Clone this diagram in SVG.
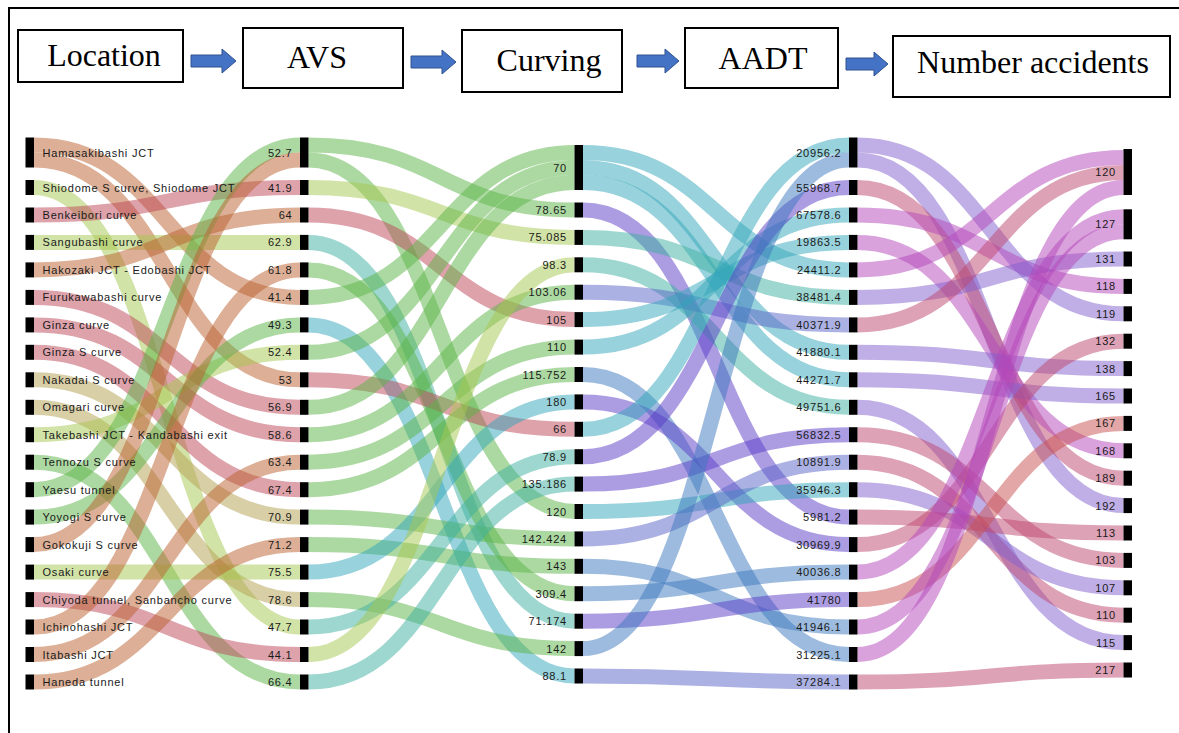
<svg xmlns="http://www.w3.org/2000/svg" width="1179" height="733" viewBox="0 0 1179 733">
<defs>
<style>
.frame{fill:none;stroke:#000;stroke-width:2}
.hbox{fill:#fff;stroke:#000;stroke-width:2}
.htxt{font-family:"Liberation Serif","Times New Roman",serif;font-size:32px;fill:#000;text-anchor:middle}
.arw{fill:#4472c4;stroke:#2f528f;stroke-width:1}
.bar{fill:#000}
.lbl{font-family:"Liberation Sans",Arial,sans-serif;font-size:11px;fill:#1a1a1a;letter-spacing:0.8px}
.r{text-anchor:end}
#links path{fill:none;stroke-width:15;stroke-opacity:0.5}
.tan{stroke:#b95f2d}
.pink{stroke:#be4657}
.yg{stroke:#a5c850}
.khaki{stroke:#b4a050}
.green{stroke:#5ab446}
.teal{stroke:#3cafa0}
.cyan{stroke:#32a5b9}
.steel{stroke:#3c78be}
.purple{stroke:#5a3cc8}
.peri{stroke:#5a64c8}
.lav{stroke:#825fcd}
.orchid{stroke:#b446b9}
.pinkred{stroke:#be466e}
.salmon{stroke:#c85050}
</style>
</defs>
<rect width="1179" height="733" fill="#fff"/>
<path class="frame" d="M9,733V8H1179"/>

<!-- header: stage boxes and block arrows -->
<g id="header">
<g id="h-location"><rect class="hbox" x="18" y="30" width="165" height="52"/><text class="htxt" x="104" y="66">Location</text></g>
<g id="h-avs"><rect class="hbox" x="243" y="28" width="160" height="60"/><text class="htxt" x="317" y="68">AVS</text></g>
<g id="h-curving"><rect class="hbox" x="462" y="30" width="160" height="62"/><text class="htxt" x="549" y="71">Curving</text></g>
<g id="h-aadt"><rect class="hbox" x="685" y="28" width="153" height="60"/><text class="htxt" x="763" y="69">AADT</text></g>
<g id="h-number"><rect class="hbox" x="893" y="36" width="277" height="61"/><text class="htxt" x="1033" y="73">Number accidents</text></g>
<path class="arw" d="M191,55H222V49L236,61L222,73V67H191Z"/>
<path class="arw" d="M411,56H442V50L456,62L442,74V68H411Z"/>
<path class="arw" d="M637,55H665V49L679,61L665,73V67H637Z"/>
<path class="arw" d="M846,58H874V52L888,64L874,76V70H846Z"/>
</g>

<g id="links">
<!-- Location to AVS -->
<path class="tan" d="M34,145C167,145 167,297.4 300,297.4"/>
<path class="tan" d="M34,160C167,160 167,379.8 300,379.8"/>
<path class="yg" d="M34,187.5C167,187.5 167,627 300,627"/>
<path class="pink" d="M34,215C167,215 167,187.5 300,187.5"/>
<path class="yg" d="M34,242.4C167,242.4 167,242.4 300,242.4"/>
<path class="tan" d="M34,269.9C167,269.9 167,215 300,215"/>
<path class="pink" d="M34,297.4C167,297.4 167,407.3 300,407.3"/>
<path class="pink" d="M34,324.9C167,324.9 167,434.7 300,434.7"/>
<path class="pink" d="M34,352.3C167,352.3 167,489.7 300,489.7"/>
<path class="khaki" d="M34,379.8C167,379.8 167,517.1 300,517.1"/>
<path class="khaki" d="M34,407.3C167,407.3 167,599.6 300,599.6"/>
<path class="yg" d="M34,434.7C167,434.7 167,352.3 300,352.3"/>
<path class="green" d="M34,462.2C167,462.2 167,682 300,682"/>
<path class="green" d="M34,489.7C167,489.7 167,145 300,145"/>
<path class="green" d="M34,517.1C167,517.1 167,324.9 300,324.9"/>
<path class="tan" d="M34,544.6C167,544.6 167,160 300,160"/>
<path class="yg" d="M34,572.1C167,572.1 167,572.1 300,572.1"/>
<path class="pink" d="M34,599.6C167,599.6 167,654.5 300,654.5"/>
<path class="tan" d="M34,627C167,627 167,269.9 300,269.9"/>
<path class="tan" d="M34,654.5C167,654.5 167,462.2 300,462.2"/>
<path class="tan" d="M34,682C167,682 167,544.6 300,544.6"/>
<!-- AVS to Curving -->
<path class="green" d="M308.5,145C441.5,145 441.5,210 574.5,210"/>
<path class="green" d="M308.5,160C441.5,160 441.5,511.5 574.5,511.5"/>
<path class="yg" d="M308.5,187.5C441.5,187.5 441.5,237.4 574.5,237.4"/>
<path class="pink" d="M308.5,215C441.5,215 441.5,319.6 574.5,319.6"/>
<path class="teal" d="M308.5,242.4C441.5,242.4 441.5,621.2 574.5,621.2"/>
<path class="green" d="M308.5,269.9C441.5,269.9 441.5,593.7 574.5,593.7"/>
<path class="green" d="M308.5,297.4C441.5,297.4 441.5,152.5 574.5,152.5"/>
<path class="cyan" d="M308.5,324.9C441.5,324.9 441.5,676 574.5,676"/>
<path class="green" d="M308.5,352.3C441.5,352.3 441.5,167.5 574.5,167.5"/>
<path class="pink" d="M308.5,379.8C441.5,379.8 441.5,429.3 574.5,429.3"/>
<path class="green" d="M308.5,407.3C441.5,407.3 441.5,182.5 574.5,182.5"/>
<path class="green" d="M308.5,434.7C441.5,434.7 441.5,292.2 574.5,292.2"/>
<path class="green" d="M308.5,462.2C441.5,462.2 441.5,347.1 574.5,347.1"/>
<path class="green" d="M308.5,489.7C441.5,489.7 441.5,374.5 574.5,374.5"/>
<path class="green" d="M308.5,517.1C441.5,517.1 441.5,538.9 574.5,538.9"/>
<path class="green" d="M308.5,544.6C441.5,544.6 441.5,566.3 574.5,566.3"/>
<path class="cyan" d="M308.5,572.1C441.5,572.1 441.5,401.9 574.5,401.9"/>
<path class="green" d="M308.5,599.6C441.5,599.6 441.5,648.6 574.5,648.6"/>
<path class="teal" d="M308.5,627C441.5,627 441.5,456.7 574.5,456.7"/>
<path class="yg" d="M308.5,654.5C441.5,654.5 441.5,264.8 574.5,264.8"/>
<path class="teal" d="M308.5,682C441.5,682 441.5,484.1 574.5,484.1"/>
<!-- Curving to AADT -->
<path class="cyan" d="M583,152.5C716,152.5 716,269.9 849,269.9"/>
<path class="cyan" d="M583,167.5C716,167.5 716,352.3 849,352.3"/>
<path class="cyan" d="M583,182.5C716,182.5 716,379.8 849,379.8"/>
<path class="purple" d="M583,210C716,210 716,517.1 849,517.1"/>
<path class="teal" d="M583,237.4C716,237.4 716,297.4 849,297.4"/>
<path class="teal" d="M583,264.8C716,264.8 716,407.3 849,407.3"/>
<path class="peri" d="M583,292.2C716,292.2 716,324.9 849,324.9"/>
<path class="cyan" d="M583,319.6C716,319.6 716,242.4 849,242.4"/>
<path class="cyan" d="M583,347.1C716,347.1 716,215 849,215"/>
<path class="steel" d="M583,374.5C716,374.5 716,654.5 849,654.5"/>
<path class="purple" d="M583,401.9C716,401.9 716,544.6 849,544.6"/>
<path class="cyan" d="M583,429.3C716,429.3 716,145 849,145"/>
<path class="purple" d="M583,456.7C716,456.7 716,187.5 849,187.5"/>
<path class="purple" d="M583,484.1C716,484.1 716,434.7 849,434.7"/>
<path class="cyan" d="M583,511.5C716,511.5 716,489.7 849,489.7"/>
<path class="peri" d="M583,538.9C716,538.9 716,462.2 849,462.2"/>
<path class="steel" d="M583,566.3C716,566.3 716,627 849,627"/>
<path class="steel" d="M583,593.7C716,593.7 716,572.1 849,572.1"/>
<path class="purple" d="M583,621.2C716,621.2 716,599.6 849,599.6"/>
<path class="steel" d="M583,648.6C716,648.6 716,160 849,160"/>
<path class="peri" d="M583,676C716,676 716,682 849,682"/>
<!-- AADT to Number accidents -->
<path class="lav" d="M857.5,145C990.5,145 990.5,313.8 1123.5,313.8"/>
<path class="lav" d="M857.5,160C990.5,160 990.5,505.6 1123.5,505.6"/>
<path class="pinkred" d="M857.5,187.5C990.5,187.5 990.5,478.2 1123.5,478.2"/>
<path class="orchid" d="M857.5,215C990.5,215 990.5,286.4 1123.5,286.4"/>
<path class="orchid" d="M857.5,242.4C990.5,242.4 990.5,450.8 1123.5,450.8"/>
<path class="orchid" d="M857.5,269.9C990.5,269.9 990.5,157.5 1123.5,157.5"/>
<path class="lav" d="M857.5,297.4C990.5,297.4 990.5,259 1123.5,259"/>
<path class="pinkred" d="M857.5,324.9C990.5,324.9 990.5,172.5 1123.5,172.5"/>
<path class="lav" d="M857.5,352.3C990.5,352.3 990.5,368.6 1123.5,368.6"/>
<path class="lav" d="M857.5,379.8C990.5,379.8 990.5,396 1123.5,396"/>
<path class="lav" d="M857.5,407.3C990.5,407.3 990.5,642.6 1123.5,642.6"/>
<path class="pinkred" d="M857.5,434.7C990.5,434.7 990.5,560.4 1123.5,560.4"/>
<path class="pinkred" d="M857.5,462.2C990.5,462.2 990.5,615.2 1123.5,615.2"/>
<path class="lav" d="M857.5,489.7C990.5,489.7 990.5,587.8 1123.5,587.8"/>
<path class="pinkred" d="M857.5,517.1C990.5,517.1 990.5,533 1123.5,533"/>
<path class="pinkred" d="M857.5,544.6C990.5,544.6 990.5,341.2 1123.5,341.2"/>
<path class="orchid" d="M857.5,572.1C990.5,572.1 990.5,216.8 1123.5,216.8"/>
<path class="salmon" d="M857.5,599.6C990.5,599.6 990.5,423.4 1123.5,423.4"/>
<path class="orchid" d="M857.5,627C990.5,627 990.5,231.8 1123.5,231.8"/>
<path class="orchid" d="M857.5,654.5C990.5,654.5 990.5,187.5 1123.5,187.5"/>
<path class="pinkred" d="M857.5,682C990.5,682 990.5,670 1123.5,670"/>
</g>

<!-- Location column -->
<g id="loc-hamasakibashi"><rect class="bar" x="25.5" y="137.5" width="8.5" height="30"/><text class="lbl" x="42.5" y="156.5">Hamasakibashi JCT</text></g>
<g id="loc-shiodome"><rect class="bar" x="25.5" y="180" width="8.5" height="15"/><text class="lbl" x="42.5" y="191.5">Shiodome S curve, Shiodome JCT</text></g>
<g id="loc-benkeibori"><rect class="bar" x="25.5" y="207.5" width="8.5" height="15"/><text class="lbl" x="42.5" y="219">Benkeibori curve</text></g>
<g id="loc-sangubashi"><rect class="bar" x="25.5" y="234.9" width="8.5" height="15"/><text class="lbl" x="42.5" y="246.4">Sangubashi curve</text></g>
<g id="loc-hakozaki"><rect class="bar" x="25.5" y="262.4" width="8.5" height="15"/><text class="lbl" x="42.5" y="273.9">Hakozaki JCT - Edobashi JCT</text></g>
<g id="loc-furukawabashi"><rect class="bar" x="25.5" y="289.9" width="8.5" height="15"/><text class="lbl" x="42.5" y="301.4">Furukawabashi curve</text></g>
<g id="loc-ginza"><rect class="bar" x="25.5" y="317.4" width="8.5" height="15"/><text class="lbl" x="42.5" y="328.9">Ginza curve</text></g>
<g id="loc-ginza-s"><rect class="bar" x="25.5" y="344.8" width="8.5" height="15"/><text class="lbl" x="42.5" y="356.3">Ginza S curve</text></g>
<g id="loc-nakadai"><rect class="bar" x="25.5" y="372.3" width="8.5" height="15"/><text class="lbl" x="42.5" y="383.8">Nakadai S curve</text></g>
<g id="loc-omagari"><rect class="bar" x="25.5" y="399.8" width="8.5" height="15"/><text class="lbl" x="42.5" y="411.3">Omagari curve</text></g>
<g id="loc-takebashi"><rect class="bar" x="25.5" y="427.2" width="8.5" height="15"/><text class="lbl" x="42.5" y="438.7">Takebashi JCT - Kandabashi exit</text></g>
<g id="loc-tennozu"><rect class="bar" x="25.5" y="454.7" width="8.5" height="15"/><text class="lbl" x="42.5" y="466.2">Tennozu S curve</text></g>
<g id="loc-yaesu"><rect class="bar" x="25.5" y="482.2" width="8.5" height="15"/><text class="lbl" x="42.5" y="493.7">Yaesu tunnel</text></g>
<g id="loc-yoyogi"><rect class="bar" x="25.5" y="509.6" width="8.5" height="15"/><text class="lbl" x="42.5" y="521.1">Yoyogi S curve</text></g>
<g id="loc-gokokuji"><rect class="bar" x="25.5" y="537.1" width="8.5" height="15"/><text class="lbl" x="42.5" y="548.6">Gokokuji S curve</text></g>
<g id="loc-osaki"><rect class="bar" x="25.5" y="564.6" width="8.5" height="15"/><text class="lbl" x="42.5" y="576.1">Osaki curve</text></g>
<g id="loc-chiyoda"><rect class="bar" x="25.5" y="592.1" width="8.5" height="15"/><text class="lbl" x="42.5" y="603.6">Chiyoda tunnel, Sanbancho curve</text></g>
<g id="loc-ichinohashi"><rect class="bar" x="25.5" y="619.5" width="8.5" height="15"/><text class="lbl" x="42.5" y="631">Ichinohashi JCT</text></g>
<g id="loc-itabashi"><rect class="bar" x="25.5" y="647" width="8.5" height="15"/><text class="lbl" x="42.5" y="658.5">Itabashi JCT</text></g>
<g id="loc-haneda"><rect class="bar" x="25.5" y="674.5" width="8.5" height="15"/><text class="lbl" x="42.5" y="686">Haneda tunnel</text></g>

<!-- AVS column -->
<g id="avs-52-7"><rect class="bar" x="300" y="137.5" width="8.5" height="30"/><text class="lbl r" x="292.5" y="156.5">52.7</text></g>
<g id="avs-41-9"><rect class="bar" x="300" y="180" width="8.5" height="15"/><text class="lbl r" x="292.5" y="191.5">41.9</text></g>
<g id="avs-64"><rect class="bar" x="300" y="207.5" width="8.5" height="15"/><text class="lbl r" x="292.5" y="219">64</text></g>
<g id="avs-62-9"><rect class="bar" x="300" y="234.9" width="8.5" height="15"/><text class="lbl r" x="292.5" y="246.4">62.9</text></g>
<g id="avs-61-8"><rect class="bar" x="300" y="262.4" width="8.5" height="15"/><text class="lbl r" x="292.5" y="273.9">61.8</text></g>
<g id="avs-41-4"><rect class="bar" x="300" y="289.9" width="8.5" height="15"/><text class="lbl r" x="292.5" y="301.4">41.4</text></g>
<g id="avs-49-3"><rect class="bar" x="300" y="317.4" width="8.5" height="15"/><text class="lbl r" x="292.5" y="328.9">49.3</text></g>
<g id="avs-52-4"><rect class="bar" x="300" y="344.8" width="8.5" height="15"/><text class="lbl r" x="292.5" y="356.3">52.4</text></g>
<g id="avs-53"><rect class="bar" x="300" y="372.3" width="8.5" height="15"/><text class="lbl r" x="292.5" y="383.8">53</text></g>
<g id="avs-56-9"><rect class="bar" x="300" y="399.8" width="8.5" height="15"/><text class="lbl r" x="292.5" y="411.3">56.9</text></g>
<g id="avs-58-6"><rect class="bar" x="300" y="427.2" width="8.5" height="15"/><text class="lbl r" x="292.5" y="438.7">58.6</text></g>
<g id="avs-63-4"><rect class="bar" x="300" y="454.7" width="8.5" height="15"/><text class="lbl r" x="292.5" y="466.2">63.4</text></g>
<g id="avs-67-4"><rect class="bar" x="300" y="482.2" width="8.5" height="15"/><text class="lbl r" x="292.5" y="493.7">67.4</text></g>
<g id="avs-70-9"><rect class="bar" x="300" y="509.6" width="8.5" height="15"/><text class="lbl r" x="292.5" y="521.1">70.9</text></g>
<g id="avs-71-2"><rect class="bar" x="300" y="537.1" width="8.5" height="15"/><text class="lbl r" x="292.5" y="548.6">71.2</text></g>
<g id="avs-75-5"><rect class="bar" x="300" y="564.6" width="8.5" height="15"/><text class="lbl r" x="292.5" y="576.1">75.5</text></g>
<g id="avs-78-6"><rect class="bar" x="300" y="592.1" width="8.5" height="15"/><text class="lbl r" x="292.5" y="603.6">78.6</text></g>
<g id="avs-47-7"><rect class="bar" x="300" y="619.5" width="8.5" height="15"/><text class="lbl r" x="292.5" y="631">47.7</text></g>
<g id="avs-44-1"><rect class="bar" x="300" y="647" width="8.5" height="15"/><text class="lbl r" x="292.5" y="658.5">44.1</text></g>
<g id="avs-66-4"><rect class="bar" x="300" y="674.5" width="8.5" height="15"/><text class="lbl r" x="292.5" y="686">66.4</text></g>

<!-- Curving column -->
<g id="cur-70"><rect class="bar" x="574.5" y="145" width="8.5" height="45"/><text class="lbl r" x="567" y="171.5">70</text></g>
<g id="cur-78-65"><rect class="bar" x="574.5" y="202.5" width="8.5" height="15"/><text class="lbl r" x="567" y="214">78.65</text></g>
<g id="cur-75-085"><rect class="bar" x="574.5" y="229.9" width="8.5" height="15"/><text class="lbl r" x="567" y="241.4">75.085</text></g>
<g id="cur-98-3"><rect class="bar" x="574.5" y="257.3" width="8.5" height="15"/><text class="lbl r" x="567" y="268.8">98.3</text></g>
<g id="cur-103-06"><rect class="bar" x="574.5" y="284.7" width="8.5" height="15"/><text class="lbl r" x="567" y="296.2">103.06</text></g>
<g id="cur-105"><rect class="bar" x="574.5" y="312.1" width="8.5" height="15"/><text class="lbl r" x="567" y="323.6">105</text></g>
<g id="cur-110"><rect class="bar" x="574.5" y="339.6" width="8.5" height="15"/><text class="lbl r" x="567" y="351.1">110</text></g>
<g id="cur-115-752"><rect class="bar" x="574.5" y="367" width="8.5" height="15"/><text class="lbl r" x="567" y="378.5">115.752</text></g>
<g id="cur-180"><rect class="bar" x="574.5" y="394.4" width="8.5" height="15"/><text class="lbl r" x="567" y="405.9">180</text></g>
<g id="cur-66"><rect class="bar" x="574.5" y="421.8" width="8.5" height="15"/><text class="lbl r" x="567" y="433.3">66</text></g>
<g id="cur-78-9"><rect class="bar" x="574.5" y="449.2" width="8.5" height="15"/><text class="lbl r" x="567" y="460.7">78.9</text></g>
<g id="cur-135-186"><rect class="bar" x="574.5" y="476.6" width="8.5" height="15"/><text class="lbl r" x="567" y="488.1">135.186</text></g>
<g id="cur-120"><rect class="bar" x="574.5" y="504" width="8.5" height="15"/><text class="lbl r" x="567" y="515.5">120</text></g>
<g id="cur-142-424"><rect class="bar" x="574.5" y="531.4" width="8.5" height="15"/><text class="lbl r" x="567" y="542.9">142.424</text></g>
<g id="cur-143"><rect class="bar" x="574.5" y="558.8" width="8.5" height="15"/><text class="lbl r" x="567" y="570.3">143</text></g>
<g id="cur-309-4"><rect class="bar" x="574.5" y="586.2" width="8.5" height="15"/><text class="lbl r" x="567" y="597.7">309.4</text></g>
<g id="cur-71-174"><rect class="bar" x="574.5" y="613.7" width="8.5" height="15"/><text class="lbl r" x="567" y="625.2">71.174</text></g>
<g id="cur-142"><rect class="bar" x="574.5" y="641.1" width="8.5" height="15"/><text class="lbl r" x="567" y="652.6">142</text></g>
<g id="cur-88-1"><rect class="bar" x="574.5" y="668.5" width="8.5" height="15"/><text class="lbl r" x="567" y="680">88.1</text></g>

<!-- AADT column -->
<g id="aadt-20956-2"><rect class="bar" x="849" y="137.5" width="8.5" height="30"/><text class="lbl r" x="841.5" y="156.5">20956.2</text></g>
<g id="aadt-55968-7"><rect class="bar" x="849" y="180" width="8.5" height="15"/><text class="lbl r" x="841.5" y="191.5">55968.7</text></g>
<g id="aadt-67578-6"><rect class="bar" x="849" y="207.5" width="8.5" height="15"/><text class="lbl r" x="841.5" y="219">67578.6</text></g>
<g id="aadt-19863-5"><rect class="bar" x="849" y="234.9" width="8.5" height="15"/><text class="lbl r" x="841.5" y="246.4">19863.5</text></g>
<g id="aadt-24411-2"><rect class="bar" x="849" y="262.4" width="8.5" height="15"/><text class="lbl r" x="841.5" y="273.9">24411.2</text></g>
<g id="aadt-38481-4"><rect class="bar" x="849" y="289.9" width="8.5" height="15"/><text class="lbl r" x="841.5" y="301.4">38481.4</text></g>
<g id="aadt-40371-9"><rect class="bar" x="849" y="317.4" width="8.5" height="15"/><text class="lbl r" x="841.5" y="328.9">40371.9</text></g>
<g id="aadt-41880-1"><rect class="bar" x="849" y="344.8" width="8.5" height="15"/><text class="lbl r" x="841.5" y="356.3">41880.1</text></g>
<g id="aadt-44271-7"><rect class="bar" x="849" y="372.3" width="8.5" height="15"/><text class="lbl r" x="841.5" y="383.8">44271.7</text></g>
<g id="aadt-49751-6"><rect class="bar" x="849" y="399.8" width="8.5" height="15"/><text class="lbl r" x="841.5" y="411.3">49751.6</text></g>
<g id="aadt-56832-5"><rect class="bar" x="849" y="427.2" width="8.5" height="15"/><text class="lbl r" x="841.5" y="438.7">56832.5</text></g>
<g id="aadt-10891-9"><rect class="bar" x="849" y="454.7" width="8.5" height="15"/><text class="lbl r" x="841.5" y="466.2">10891.9</text></g>
<g id="aadt-35946-3"><rect class="bar" x="849" y="482.2" width="8.5" height="15"/><text class="lbl r" x="841.5" y="493.7">35946.3</text></g>
<g id="aadt-5981-2"><rect class="bar" x="849" y="509.6" width="8.5" height="15"/><text class="lbl r" x="841.5" y="521.1">5981.2</text></g>
<g id="aadt-30969-9"><rect class="bar" x="849" y="537.1" width="8.5" height="15"/><text class="lbl r" x="841.5" y="548.6">30969.9</text></g>
<g id="aadt-40036-8"><rect class="bar" x="849" y="564.6" width="8.5" height="15"/><text class="lbl r" x="841.5" y="576.1">40036.8</text></g>
<g id="aadt-41780"><rect class="bar" x="849" y="592.1" width="8.5" height="15"/><text class="lbl r" x="841.5" y="603.6">41780</text></g>
<g id="aadt-41946-1"><rect class="bar" x="849" y="619.5" width="8.5" height="15"/><text class="lbl r" x="841.5" y="631">41946.1</text></g>
<g id="aadt-31225-1"><rect class="bar" x="849" y="647" width="8.5" height="15"/><text class="lbl r" x="841.5" y="658.5">31225.1</text></g>
<g id="aadt-37284-1"><rect class="bar" x="849" y="674.5" width="8.5" height="15"/><text class="lbl r" x="841.5" y="686">37284.1</text></g>

<!-- Number accidents column -->
<g id="num-120"><rect class="bar" x="1123.5" y="149" width="8.5" height="46"/><text class="lbl r" x="1116" y="176">120</text></g>
<g id="num-127"><rect class="bar" x="1123.5" y="209.3" width="8.5" height="30"/><text class="lbl r" x="1116" y="228.3">127</text></g>
<g id="num-131"><rect class="bar" x="1123.5" y="251.5" width="8.5" height="15"/><text class="lbl r" x="1116" y="263">131</text></g>
<g id="num-118"><rect class="bar" x="1123.5" y="278.9" width="8.5" height="15"/><text class="lbl r" x="1116" y="290.4">118</text></g>
<g id="num-119"><rect class="bar" x="1123.5" y="306.3" width="8.5" height="15"/><text class="lbl r" x="1116" y="317.8">119</text></g>
<g id="num-132"><rect class="bar" x="1123.5" y="333.7" width="8.5" height="15"/><text class="lbl r" x="1116" y="345.2">132</text></g>
<g id="num-138"><rect class="bar" x="1123.5" y="361.1" width="8.5" height="15"/><text class="lbl r" x="1116" y="372.6">138</text></g>
<g id="num-165"><rect class="bar" x="1123.5" y="388.5" width="8.5" height="15"/><text class="lbl r" x="1116" y="400">165</text></g>
<g id="num-167"><rect class="bar" x="1123.5" y="415.9" width="8.5" height="15"/><text class="lbl r" x="1116" y="427.4">167</text></g>
<g id="num-168"><rect class="bar" x="1123.5" y="443.3" width="8.5" height="15"/><text class="lbl r" x="1116" y="454.8">168</text></g>
<g id="num-189"><rect class="bar" x="1123.5" y="470.7" width="8.5" height="15"/><text class="lbl r" x="1116" y="482.2">189</text></g>
<g id="num-192"><rect class="bar" x="1123.5" y="498.1" width="8.5" height="15"/><text class="lbl r" x="1116" y="509.6">192</text></g>
<g id="num-113"><rect class="bar" x="1123.5" y="525.5" width="8.5" height="15"/><text class="lbl r" x="1116" y="537">113</text></g>
<g id="num-103"><rect class="bar" x="1123.5" y="552.9" width="8.5" height="15"/><text class="lbl r" x="1116" y="564.4">103</text></g>
<g id="num-107"><rect class="bar" x="1123.5" y="580.3" width="8.5" height="15"/><text class="lbl r" x="1116" y="591.8">107</text></g>
<g id="num-110"><rect class="bar" x="1123.5" y="607.7" width="8.5" height="15"/><text class="lbl r" x="1116" y="619.2">110</text></g>
<g id="num-115"><rect class="bar" x="1123.5" y="635.1" width="8.5" height="15"/><text class="lbl r" x="1116" y="646.6">115</text></g>
<g id="num-217"><rect class="bar" x="1123.5" y="662.5" width="8.5" height="15"/><text class="lbl r" x="1116" y="674">217</text></g>
</svg>
